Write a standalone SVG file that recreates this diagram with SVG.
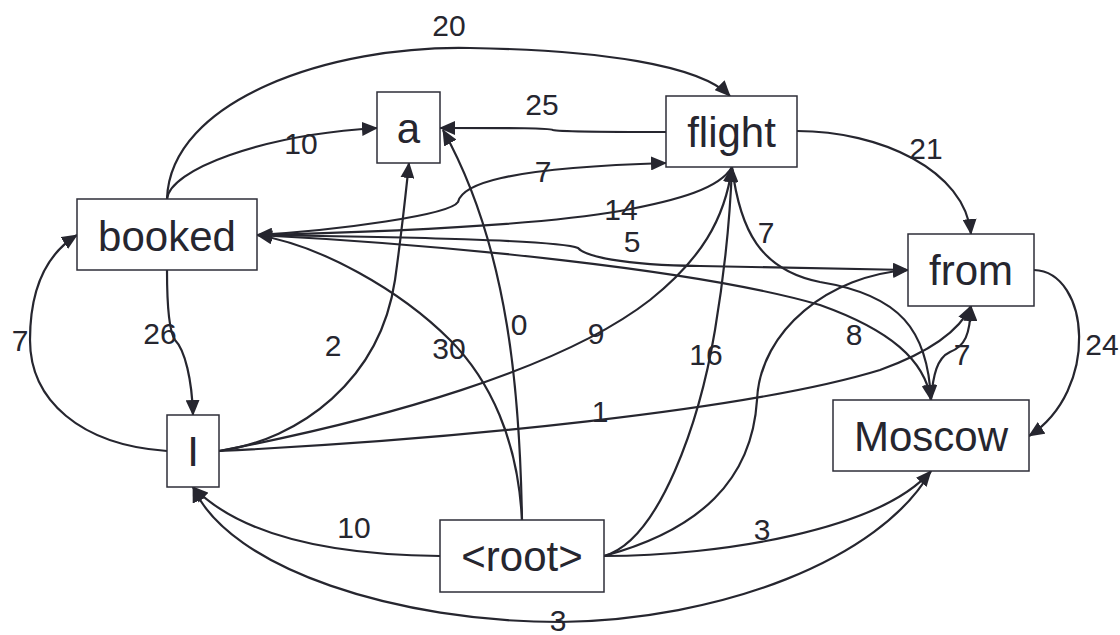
<svg xmlns="http://www.w3.org/2000/svg" width="1120" height="635" viewBox="0 0 1120 635">
<style>
.n rect{fill:#fff;stroke:#2e2e38;stroke-width:1.5}
.n text{font-family:"Liberation Sans",Arial,sans-serif;font-size:42px;fill:#26262f;text-anchor:middle}
.e path{fill:none;stroke:#26262f;stroke-width:2.2}
.l text{font-family:"Liberation Sans",Arial,sans-serif;font-size:30px;fill:#26262f;text-anchor:middle}
</style>
<defs>
<marker id="ah" markerUnits="userSpaceOnUse" markerWidth="16" markerHeight="14" viewBox="0 0 16 14" refX="15" refY="7" orient="auto">
<path d="M0,0 L16,7 L0,14 z" fill="#26262f"/>
</marker>
</defs>
<rect width="1120" height="635" fill="#fff"/>
<g id="connectors" class="e">
<path marker-end="url(#ah)" d="M167,199 C170,100 330,45 470,48 C600,50 700,65 730,96"/>
<path marker-end="url(#ah)" d="M167,199 C170,170 260,135 377,128"/>
<path marker-end="url(#ah)" d="M666,132 C600,132 560,132 553,130 C548,128 520,128 440,128"/>
<path marker-end="url(#ah)" d="M257,235 C340,230 450,215 458,202 C462,185 500,168 666,163"/>
<path marker-end="url(#ah)" d="M732,167 C720,188 680,200 620,211 C540,225 380,232 257,235"/>
<path marker-end="url(#ah)" d="M257,235 C400,237 560,240 578,248 C585,256 620,265 700,266 L908,270"/>
<path marker-end="url(#ah)" d="M797,131 C880,131 965,170 971,234"/>
<path marker-end="url(#ah)" d="M732,167 C740,230 760,270 820,282 C900,295 928,330 931,400"/>
<path marker-end="url(#ah)" d="M167,270 C167,300 168,330 175,340 C185,350 192,380 193,415"/>
<path marker-end="url(#ah)" d="M167,451 C80,445 30,400 30,340 C30,290 45,255 77,235"/>
<path marker-end="url(#ah)" d="M219,451 C300,440 380,380 395,280 C402,230 405,200 409,163"/>
<path marker-end="url(#ah)" d="M522,520 C518,440 490,380 450,340 C400,290 320,245 257,235"/>
<path marker-end="url(#ah)" d="M522,520 C520,400 510,250 443,130"/>
<path marker-end="url(#ah)" d="M219,451 C380,420 560,370 650,300 C700,260 725,220 732,167"/>
<path marker-end="url(#ah)" d="M604,556 C660,540 700,420 715,330 C725,270 730,220 732,167"/>
<path marker-end="url(#ah)" d="M257,235 C450,245 700,270 820,305 C890,330 925,360 931,400"/>
<path marker-end="url(#ah)" d="M931,400 C933,375 937,358 950,352 C965,346 970,335 971,306"/>
<path marker-end="url(#ah)" d="M1034,270 C1090,272 1100,390 1029,436"/>
<path marker-end="url(#ah)" d="M219,451 C450,440 750,410 880,370 C930,352 960,330 971,306"/>
<path marker-end="url(#ah)" d="M440,556 C330,555 240,535 193,487"/>
<path marker-end="url(#ah)" d="M604,556 C720,556 880,530 931,471"/>
<path marker-end="url(#ah)" d="M931,471 C880,560 720,620 560,622 C400,622 230,570 193,487"/>
<path marker-end="url(#ah)" d="M604,556 C700,530 752,480 757,400 C760,330 830,275 908,270"/>
</g>
<g id="labels" class="l">
<text x="449" y="36">20</text>
<text x="301" y="154">10</text>
<text x="542" y="115">25</text>
<text x="543" y="182">7</text>
<text x="621" y="220">14</text>
<text x="632" y="252">5</text>
<text x="926" y="159">21</text>
<text x="766" y="243">7</text>
<text x="854" y="345">8</text>
<text x="962" y="365">7</text>
<text x="1102" y="355">24</text>
<text x="20" y="351">7</text>
<text x="160" y="344">26</text>
<text x="333" y="356">2</text>
<text x="449" y="359">30</text>
<text x="519" y="335">0</text>
<text x="596" y="344">9</text>
<text x="706" y="365">16</text>
<text x="600" y="422">1</text>
<text x="354" y="538">10</text>
<text x="762" y="540">3</text>
<text x="558" y="631">3</text>
</g>
<g id="node-booked" class="n"><rect x="77" y="199" width="180" height="71"/><text x="167" y="251">booked</text></g>
<g id="node-a" class="n"><rect x="377" y="92" width="63" height="71"/><text x="408.5" y="143">a</text></g>
<g id="node-flight" class="n"><rect x="666" y="96" width="131" height="71"/><text x="731.5" y="147">flight</text></g>
<g id="node-from" class="n"><rect x="908" y="234" width="126" height="72"/><text x="971" y="285">from</text></g>
<g id="node-Moscow" class="n"><rect x="833" y="400" width="196" height="71"/><text x="931" y="451">Moscow</text></g>
<g id="node-I" class="n"><rect x="167" y="415" width="52" height="72"/><text x="193" y="466">I</text></g>
<g id="node-root" class="n"><rect x="440" y="520" width="164" height="72"/><text x="522" y="571">&lt;root&gt;</text></g>
</svg>
